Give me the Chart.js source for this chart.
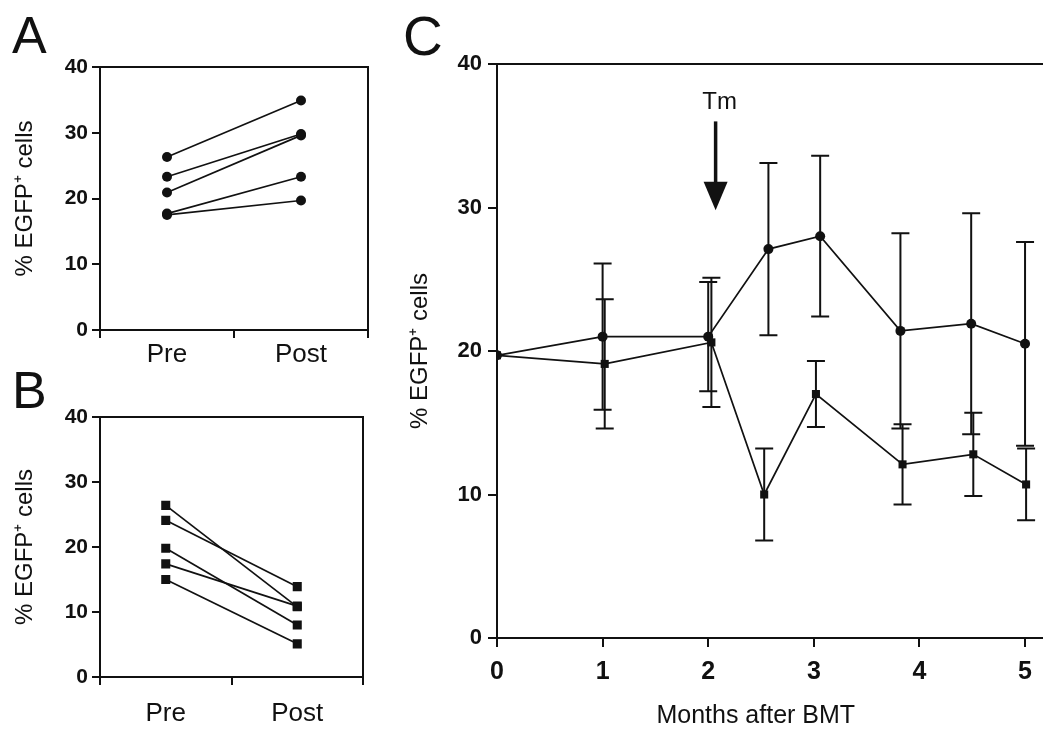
<!DOCTYPE html>
<html>
<head>
<meta charset="utf-8">
<script src="https://cdn.jsdelivr.net/npm/chart.js@4.4.0/dist/chart.umd.min.js"></script>
<style>
html,body{margin:0;padding:0;background:#fff;overflow:hidden;}
body{width:1043px;height:729px;position:relative;}
canvas{position:absolute;}
</style>
</head>
<body>
<canvas id="chartA" width="400" height="365" style="left:0;top:0"></canvas>
<canvas id="chartB" width="400" height="364" style="left:0;top:365px"></canvas>
<canvas id="chartC" width="643" height="729" style="left:400px;top:0"></canvas>
<script>
// ---- data ----
const prePost = ['Pre', 'Post'];
const pctTicks = [0, 10, 20, 30, 40];
const monthTicks = [0, 1, 2, 3, 4, 5];
const yTitle = '% EGFP\u207A cells';

// A : circles, every animal goes up
const aPre  = [26.3, 23.3, 20.9, 17.7, 17.5];
const aPost = [34.9, 29.8, 29.6, 23.3, 19.7];

// B : squares, every animal goes down
const bPre  = [26.4, 24.1, 19.8, 17.4, 15.0];
const bPost = [10.8, 13.9, 8.0, 10.9, 5.1];

// C : two groups over time (mean +- error)
const circleMonths = [0, 1, 2, 2.57, 3.06, 3.82, 4.49, 5];
const circleVals   = [19.7, 21.0, 21.0, 27.1, 28.0, 21.4, 21.9, 20.5];
const circleErr    = [0, 5.1, 3.8, 6.0, 5.6, 6.8, 7.7, 7.1];
const squareMonths = [0, 1.02, 2.03, 2.53, 3.02, 3.84, 4.51, 5.01];
const squareVals   = [19.7, 19.1, 20.6, 10.0, 17.0, 12.1, 12.8, 10.7];
const squareErr    = [0, 4.5, 4.5, 3.2, 2.3, 2.8, 2.9, 2.5];

// Tm arrow (in data units of panel C)
const tmMonth = 2.07;
const tmLabelAt = 37.3, arrowFrom = 36.0, arrowHead = 31.8, arrowTo = 29.8;

const ink = '#111';
Chart.defaults.font.family = "'Liberation Sans', Arial, Helvetica, sans-serif";
Chart.defaults.color = ink;

// box top/right + panel letter
const framePlugin = {
  id: 'frame',
  afterDraw(chart, args, opts) {
    const {ctx, chartArea: a} = chart;
    ctx.save();
    ctx.strokeStyle = ink;
    ctx.lineWidth = 2;
    ctx.beginPath();
    ctx.moveTo(a.left, a.top);
    ctx.lineTo(opts.rightEdge ? chart.width : a.right, a.top);
    if (!opts.rightEdge) ctx.lineTo(a.right, a.bottom);
    ctx.stroke();
    ctx.fillStyle = ink;
    ctx.font = opts.letterSize + "px 'Liberation Sans', Arial, sans-serif";
    ctx.textAlign = 'left';
    ctx.textBaseline = 'alphabetic';
    ctx.fillText(opts.letter, opts.lx, opts.ly);
    ctx.restore();
  }
};

// error bars for panel C
const errorBars = {
  id: 'errorBars',
  afterDatasetsDraw(chart) {
    const {ctx, scales: {x, y}} = chart;
    ctx.save();
    ctx.strokeStyle = ink;
    ctx.lineWidth = 2;
    chart.data.datasets.forEach(ds => {
      ds.data.forEach((p, i) => {
        const e = ds.errors[i];
        if (!e) return;
        const px = x.getPixelForValue(p.x);
        const hi = y.getPixelForValue(p.y + e);
        const lo = y.getPixelForValue(p.y - e);
        ctx.beginPath();
        ctx.moveTo(px, hi); ctx.lineTo(px, lo);
        ctx.moveTo(px - 9, hi); ctx.lineTo(px + 9, hi);
        ctx.moveTo(px - 9, lo); ctx.lineTo(px + 9, lo);
        ctx.stroke();
      });
    });
    ctx.restore();
  }
};

// Tm arrow + x title of panel C
const tmArrow = {
  id: 'tmArrow',
  afterDraw(chart) {
    const {ctx, chartArea: a, scales: {x, y}} = chart;
    const px = x.getPixelForValue(tmMonth);
    ctx.save();
    ctx.fillStyle = ink;
    ctx.strokeStyle = ink;
    ctx.font = "24px 'Liberation Sans', Arial, sans-serif";
    ctx.textAlign = 'center';
    ctx.textBaseline = 'middle';
    ctx.fillText('Tm', px + 4, y.getPixelForValue(tmLabelAt));
    const yHead = y.getPixelForValue(arrowHead);
    ctx.lineWidth = 3.5;
    ctx.beginPath();
    ctx.moveTo(px, y.getPixelForValue(arrowFrom));
    ctx.lineTo(px, yHead + 2);
    ctx.stroke();
    ctx.beginPath();
    ctx.moveTo(px - 12, yHead);
    ctx.lineTo(px + 12, yHead);
    ctx.lineTo(px, y.getPixelForValue(arrowTo));
    ctx.closePath();
    ctx.fill();
    ctx.font = "25px 'Liberation Sans', Arial, sans-serif";
    ctx.fillText('Months after BMT', x.getPixelForValue(2.45), a.bottom + 78);
    ctx.restore();
  }
};

function pairChart(id, pre, post, style, radius, lay) {
  return new Chart(document.getElementById(id), {
    type: 'line',
    data: {
      labels: prePost,
      datasets: pre.map((v, i) => ({
        data: [v, post[i]],
        borderColor: ink,
        borderWidth: 1.7,
        pointStyle: style,
        pointRadius: radius,
        pointBackgroundColor: ink,
        pointBorderColor: ink,
        pointBorderWidth: 0
      }))
    },
    options: {
      responsive: false,
      devicePixelRatio: 1,
      animation: false,
      layout: {autoPadding: false, padding: {top: lay.top, right: lay.right, left: 0, bottom: 0}},
      plugins: {
        legend: {display: false},
        tooltip: {enabled: false},
        frame: {letter: lay.letter, letterSize: 52, lx: 12, ly: lay.ly}
      },
      scales: {
        x: {
          type: 'category',
          offset: true,
          grid: {offset: true, drawOnChartArea: false, tickLength: 8, color: ink, lineWidth: 2},
          border: {color: ink, width: 2},
          ticks: {color: ink, font: {size: 26}, padding: lay.xpad},
          afterFit: s => { s.height = lay.xh; }
        },
        y: {
          min: 0, max: 40,
          afterBuildTicks: s => { s.ticks = pctTicks.map(v => ({value: v})); },
          grid: {drawOnChartArea: false, tickLength: 8, color: ink, lineWidth: 2},
          border: {color: ink, width: 2},
          ticks: {color: ink, font: {size: 21, weight: 'bold'}, padding: 4},
          title: {display: true, text: yTitle, color: ink, font: {size: 24}, padding: {top: 11, bottom: 0}},
          afterFit: s => { s.width = 100; }
        }
      }
    },
    plugins: [framePlugin]
  });
}

pairChart('chartA', aPre, aPost, 'circle', 5, {top: 67, right: 32, xh: 35, xpad: 1, letter: 'A', ly: 53});
pairChart('chartB', bPre, bPost, 'rect', 6.4, {top: 52, right: 37, xh: 52, xpad: 13, letter: 'B', ly: 43});

new Chart(document.getElementById('chartC'), {
  type: 'line',
  data: {
    datasets: [
      {
        data: circleMonths.map((m, i) => ({x: m, y: circleVals[i]})),
        errors: circleErr,
        borderColor: ink, borderWidth: 1.7,
        pointStyle: 'circle', pointRadius: 5,
        pointBackgroundColor: ink, pointBorderWidth: 0
      },
      {
        data: squareMonths.map((m, i) => ({x: m, y: squareVals[i]})),
        errors: squareErr,
        borderColor: ink, borderWidth: 1.7,
        pointStyle: 'rect', pointRadius: 5.7,
        pointBackgroundColor: ink, pointBorderWidth: 0
      }
    ]
  },
  options: {
    responsive: false,
    devicePixelRatio: 1,
    animation: false,
    layout: {autoPadding: false, padding: {top: 64, right: 0, left: 0, bottom: 0}},
    plugins: {
      legend: {display: false},
      tooltip: {enabled: false},
      frame: {letter: 'C', letterSize: 55, lx: 3, ly: 55, rightEdge: true}
    },
    scales: {
      x: {
        type: 'linear', min: 0, max: 5.17,
        afterBuildTicks: s => { s.ticks = monthTicks.map(v => ({value: v})); },
        grid: {drawOnChartArea: false, tickLength: 9, color: ink, lineWidth: 2},
        border: {color: ink, width: 2},
        ticks: {color: ink, font: {size: 25, weight: 'bold'}, padding: 10},
        afterFit: s => { s.height = 91; }
      },
      y: {
        min: 0, max: 40,
        afterBuildTicks: s => { s.ticks = pctTicks.map(v => ({value: v})); },
        grid: {drawOnChartArea: false, tickLength: 9, color: ink, lineWidth: 2},
        border: {color: ink, width: 2},
        ticks: {color: ink, font: {size: 22, weight: 'bold'}, padding: 6},
        title: {display: true, text: yTitle, color: ink, font: {size: 24}, padding: {top: 6, bottom: 0}},
        afterFit: s => { s.width = 97; }
      }
    }
  },
  plugins: [framePlugin, errorBars, tmArrow]
});
</script>
</body>
</html>
